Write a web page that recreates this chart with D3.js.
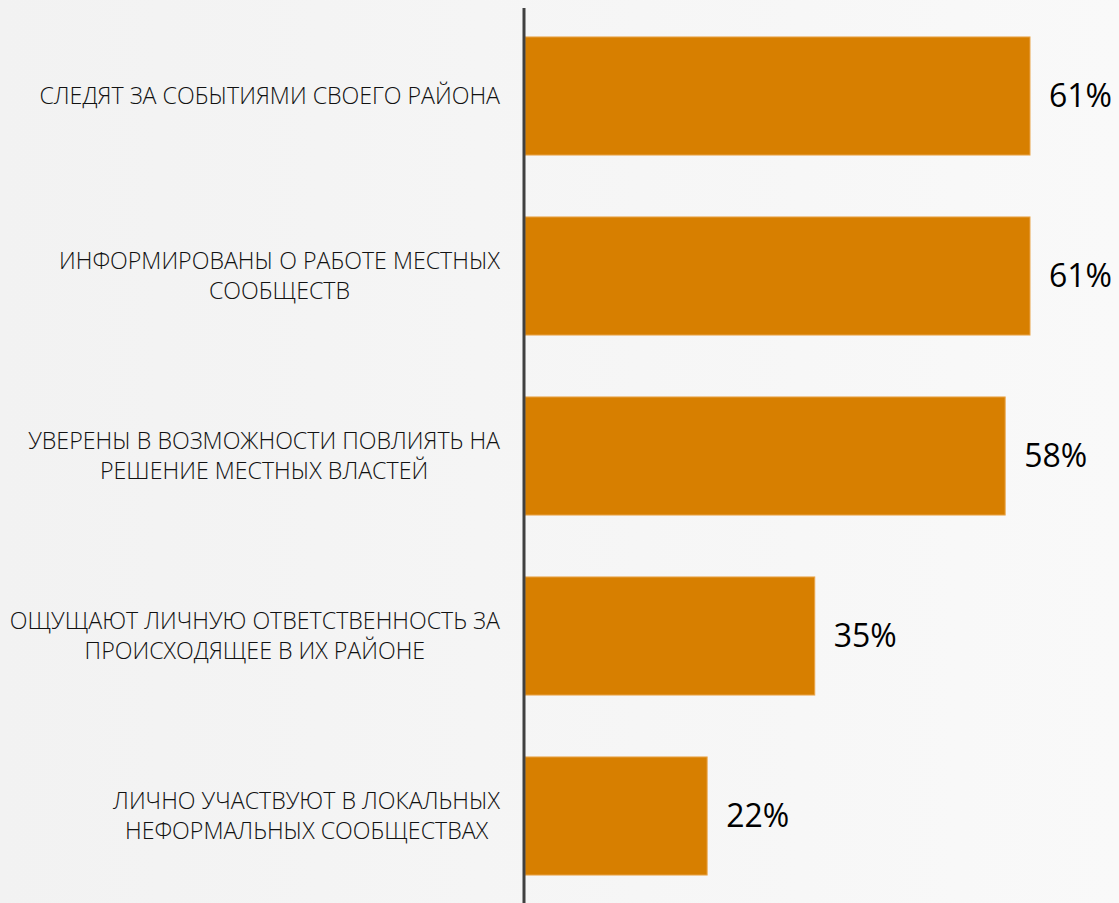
<!DOCTYPE html>
<html>
<head>
<meta charset="utf-8">
<script src="https://cdn.jsdelivr.net/npm/d3@7"></script>
<style>
  html, body { margin: 0; padding: 0; }
  body { width: 1119px; height: 903px; overflow: hidden; }
  text { font-family: "Open Sans", sans-serif; }
</style>
</head>
<body>
<div id="chart"></div>
<script>
// data
const categories = [
  ['СЛЕДЯТ ЗА СОБЫТИЯМИ СВОЕГО РАЙОНА'],
  ['ИНФОРМИРОВАНЫ О РАБОТЕ МЕСТНЫХ', 'СООБЩЕСТВ'],
  ['УВЕРЕНЫ В ВОЗМОЖНОСТИ ПОВЛИЯТЬ НА', 'РЕШЕНИЕ МЕСТНЫХ ВЛАСТЕЙ'],
  ['ОЩУЩАЮТ ЛИЧНУЮ ОТВЕТСТВЕННОСТЬ ЗА', 'ПРОИСХОДЯЩЕЕ В ИХ РАЙОНЕ'],
  ['ЛИЧНО УЧАСТВУЮТ В ЛОКАЛЬНЫХ', 'НЕФОРМАЛЬНЫХ СООБЩЕСТВАХ']
]
const values = [61, 61, 58, 35, 22]

const W = 1119, H = 903
const AXIS_X = 525
const LABEL_RIGHT = 500

const svg = d3.select('#chart').append('svg')
  .attr('width', W)
  .attr('height', H)

// soft grey background, a little darker on the left
const grad = svg.append('defs').append('linearGradient')
  .attr('id', 'bg')
grad.append('stop').attr('offset', '0%').attr('stop-color', '#f2f2f2')
grad.append('stop').attr('offset', '100%').attr('stop-color', '#f9f9f9')
svg.append('rect')
  .attr('width', W).attr('height', H)
  .attr('fill', 'url(#bg)')

const x = d3.scaleLinear()
  .domain([0, 61])
  .range([AXIS_X, 1030])

const y = d3.scaleBand()
  .domain(d3.range(values.length))
  .range([6, 906])
  .paddingInner(0.344)
  .paddingOuter(0.172)

// bars
svg.selectAll('rect.bar')
  .data(values)
  .enter()
  .append('rect')
  .attr('class', 'bar')
  .attr('x', x(0))
  .attr('y', (d, i) => y(i))
  .attr('width', d => x(d) - x(0))
  .attr('height', y.bandwidth())
  .attr('fill', '#d77f00')
  .attr('stroke', '#eaa54a')
  .attr('stroke-width', 1)

// value labels
svg.selectAll('text.val')
  .data(values)
  .enter()
  .append('text')
  .attr('class', 'val')
  .attr('x', d => x(d) + 19)
  .attr('y', (d, i) => y(i) + y.bandwidth() / 2)
  .attr('dy', '0.35em')
  .attr('font-size', 32)
  .attr('fill', '#000')
  .text(d => d + '%')

// category labels, lines centered on each other, block right aligned
const LINE_H = 30
categories.forEach((lines, i) => {
  const cy = y(i) + y.bandwidth() / 2
  const g = svg.append('g')
  const texts = lines.map((ln, j) => g.append('text')
    .attr('y', cy + (j - (lines.length - 1) / 2) * LINE_H)
    .attr('dy', '0.35em')
    .attr('font-size', 23.2)
    .attr('font-weight', 300)
    .attr('fill', '#111')
    .attr('text-anchor', 'middle')
    .text(ln))
  const widest = d3.max(texts, t => t.node().getComputedTextLength())
  texts.forEach(t => t.attr('x', LABEL_RIGHT - widest / 2))
})

// vertical axis line
svg.append('line')
  .attr('x1', AXIS_X - 1).attr('x2', AXIS_X - 1)
  .attr('y1', 8).attr('y2', H)
  .attr('stroke', '#404040')
  .attr('stroke-width', 3)
</script>
</body>
</html>
